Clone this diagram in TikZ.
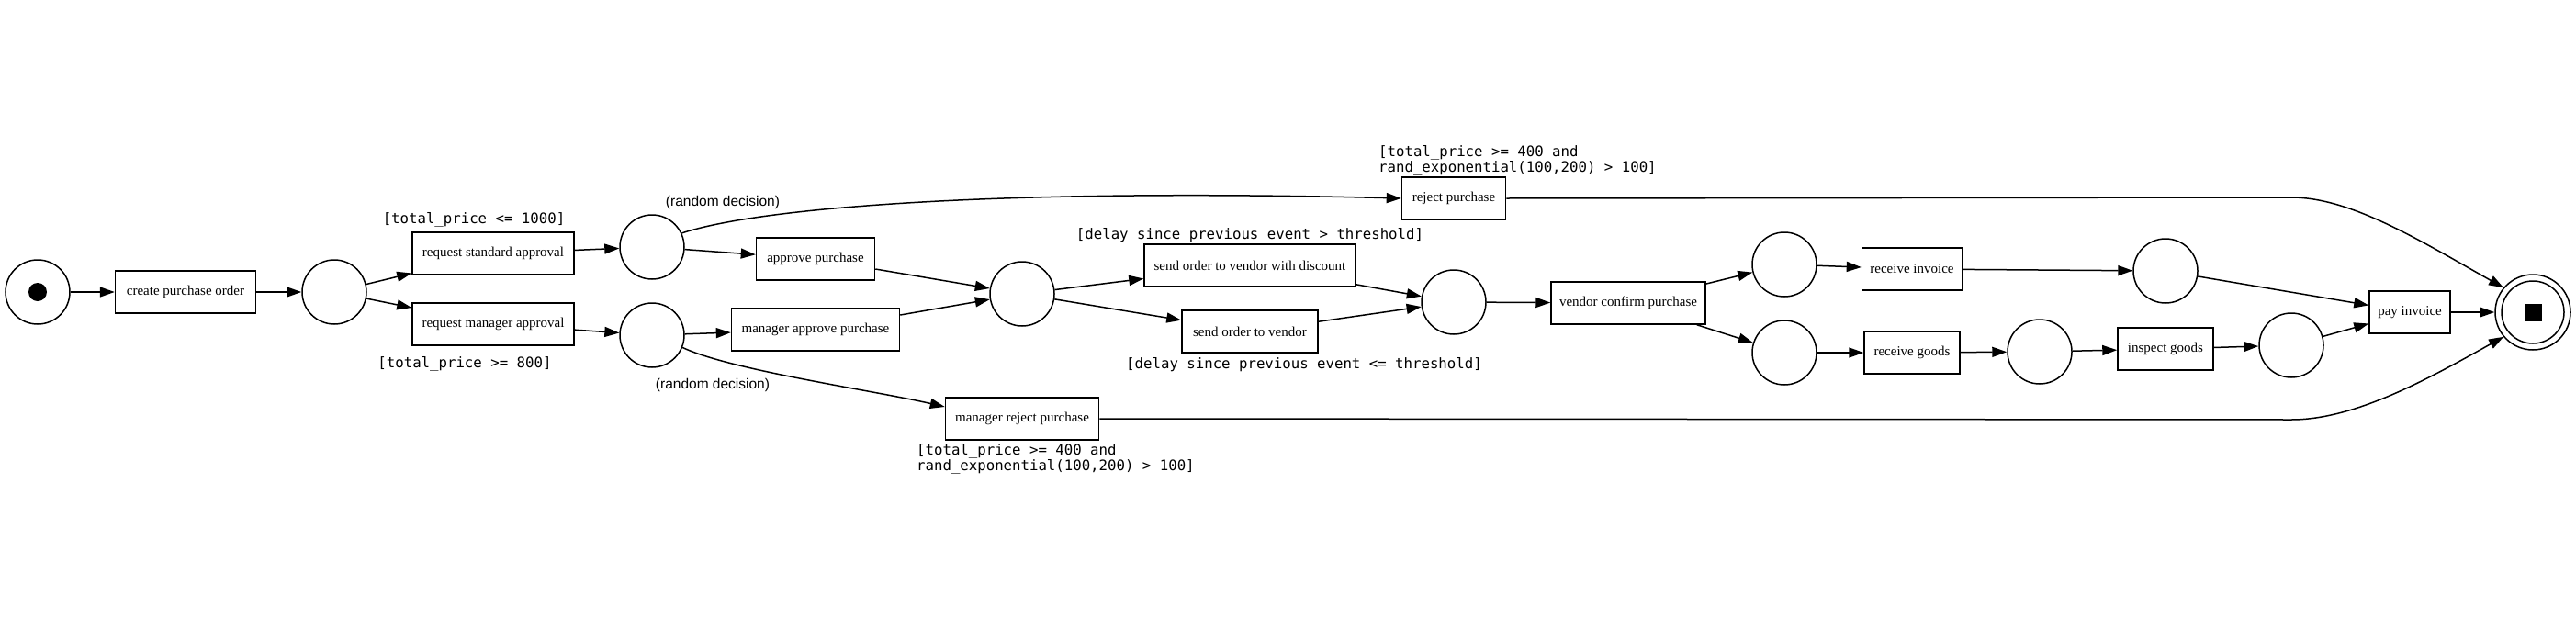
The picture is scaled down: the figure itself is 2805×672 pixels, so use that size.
\documentclass[tikz,border=0pt]{standalone}
\usepackage{fontspec}
\setmainfont{Liberation Serif}
\newfontfamily\guardfont{DejaVu Sans Mono}
\newfontfamily\notefont{Liberation Sans}
\usetikzlibrary{arrows.meta}
\begin{document}
\begin{tikzpicture}[x=1pt,y=-1pt,
  place/.style={circle,draw,line width=1.5pt,minimum size=70pt,inner sep=0pt},
  trans/.style={rectangle,draw,line width=1.5pt,minimum height=46pt,inner sep=0pt,font=\fontsize{15}{18}\selectfont},
  guard/.style={inner sep=0pt,font=\guardfont\fontsize{15.7}{16.5}\selectfont},
  note/.style={inner sep=0pt,font=\notefont\fontsize{15.5}{18}\selectfont},
  arr/.style={line width=1.5pt,-{Triangle[length=16pt,width=11pt]}}]
\fill[white] (0,0) rectangle (2805,672);
\useasboundingbox (0,0) rectangle (2805,672);

% places
\node[place] (start) at (41,318) {};
\node[circle,fill,minimum size=20pt,inner sep=0pt] (startdot) at (start) {};
\node[place] (p1) at (364,318) {};
\node[place] (p2) at (710,269) {};
\node[place] (p3) at (710,365) {};
\node[place] (p4) at (1113,320) {};
\node[place] (p5) at (1583,329) {};
\node[place] (p6) at (1943,288) {};
\node[place] (p7) at (1943,384) {};
\node[place] (p8) at (2358,295) {};
\node[place] (p9) at (2221,383) {};
\node[place] (p10) at (2495,376) {};
\node[circle,draw,line width=1.5pt,minimum size=82pt,inner sep=0pt] (end) at (2758,340) {};
\node[circle,draw,line width=1.5pt,minimum size=68pt,inner sep=0pt] (endin) at (end) {};
\node[rectangle,fill,minimum size=19pt,inner sep=0pt] (endsq) at (end) {};

% transitions
\node[trans,minimum width=153pt] (create) at (202,318) {create purchase order};
\node[trans,minimum width=176pt] (reqstd) at (537,276) {request standard approval};
\node[trans,minimum width=176pt] (reqmgr) at (537,353) {request manager approval};
\node[trans,minimum width=129pt] (approve) at (888,282) {approve purchase};
\node[trans,minimum width=183pt] (mgrapprove) at (888,359) {manager approve purchase};
\node[trans,minimum width=167pt] (mgrreject) at (1113,456) {manager reject purchase};
\node[trans,minimum width=113pt] (reject) at (1583,216) {reject purchase};
\node[trans,minimum width=230pt] (senddisc) at (1361,289) {send order to vendor with discount};
\node[trans,minimum width=148pt] (send) at (1361,361) {send order to vendor};
\node[trans,minimum width=168pt] (confirm) at (1773,330) {vendor confirm purchase};
\node[trans,minimum width=109pt] (recinv) at (2082,293) {receive invoice};
\node[trans,minimum width=104pt] (recgoods) at (2082,384) {receive goods};
\node[trans,minimum width=104pt] (inspect) at (2358,380) {inspect goods};
\node[trans,minimum width=88pt] (pay) at (2624,340) {pay invoice};

% labels
\node[guard] (g1) at (516,239) {[total\_price <= 1000]};
\node[guard] (g2) at (506,396) {[total\_price >= 800]};
\node[note] (n1) at (787,220) {(random decision)};
\node[note] (n2) at (776,419) {(random decision)};
\node[guard] (g3) at (1361,256) {[delay since previous event > threshold]};
\node[guard] (g4) at (1420,397) {[delay since previous event <= threshold]};
\node[guard,anchor=west,align=left] (g5) at (1501,175) {[total\_price >= 400 and\\rand\_exponential(100,200) > 100]};
\node[guard,anchor=west,align=left] (g6) at (998,500) {[total\_price >= 400 and\\rand\_exponential(100,200) > 100]};

% arcs
\draw[arr] (start) -- (create);
\draw[arr] (create) -- (p1);
\draw[arr] (p1) -- (reqstd);
\draw[arr] (p1) -- (reqmgr);
\draw[arr] (reqstd) -- (p2);
\draw[arr] (reqmgr) -- (p3);
\draw[arr] (p2) -- (approve);
\draw[arr] (p2.25) .. controls (830,225) and (1100,205) .. (reject.west);
\draw[arr] (p3) -- (mgrapprove);
\draw[arr] (p3.-22) .. controls (795,403) and (950,425) .. ([yshift=13pt]mgrreject.west);
\draw[arr] (approve) -- (p4);
\draw[arr] (mgrapprove) -- (p4);
\draw[arr] (p4) -- (senddisc);
\draw[arr] (p4) -- (send);
\draw[arr] (senddisc) -- (p5);
\draw[arr] (send) -- (p5);
\draw[arr] (p5) -- (confirm);
\draw[arr] (confirm) -- (p6);
\draw[arr] (confirm) -- (p7);
\draw[arr] (p6) -- (recinv);
\draw[arr] (p7) -- (recgoods);
\draw[arr] (recinv) -- (p8);
\draw[arr] (recgoods) -- (p9);
\draw[arr] (p9) -- (inspect);
\draw[arr] (inspect) -- (p10);
\draw[arr] (p8) -- (pay);
\draw[arr] (p10) -- (pay);
\draw[arr] (pay) -- (end);
\draw[arr] (reject.east) -- (2495,215) .. controls (2560,215) and (2635,262) .. (end.140);
\draw[arr] (mgrreject.east) -- (2495,457) .. controls (2565,457) and (2645,412) .. (end.220);
\end{tikzpicture}
\end{document}
